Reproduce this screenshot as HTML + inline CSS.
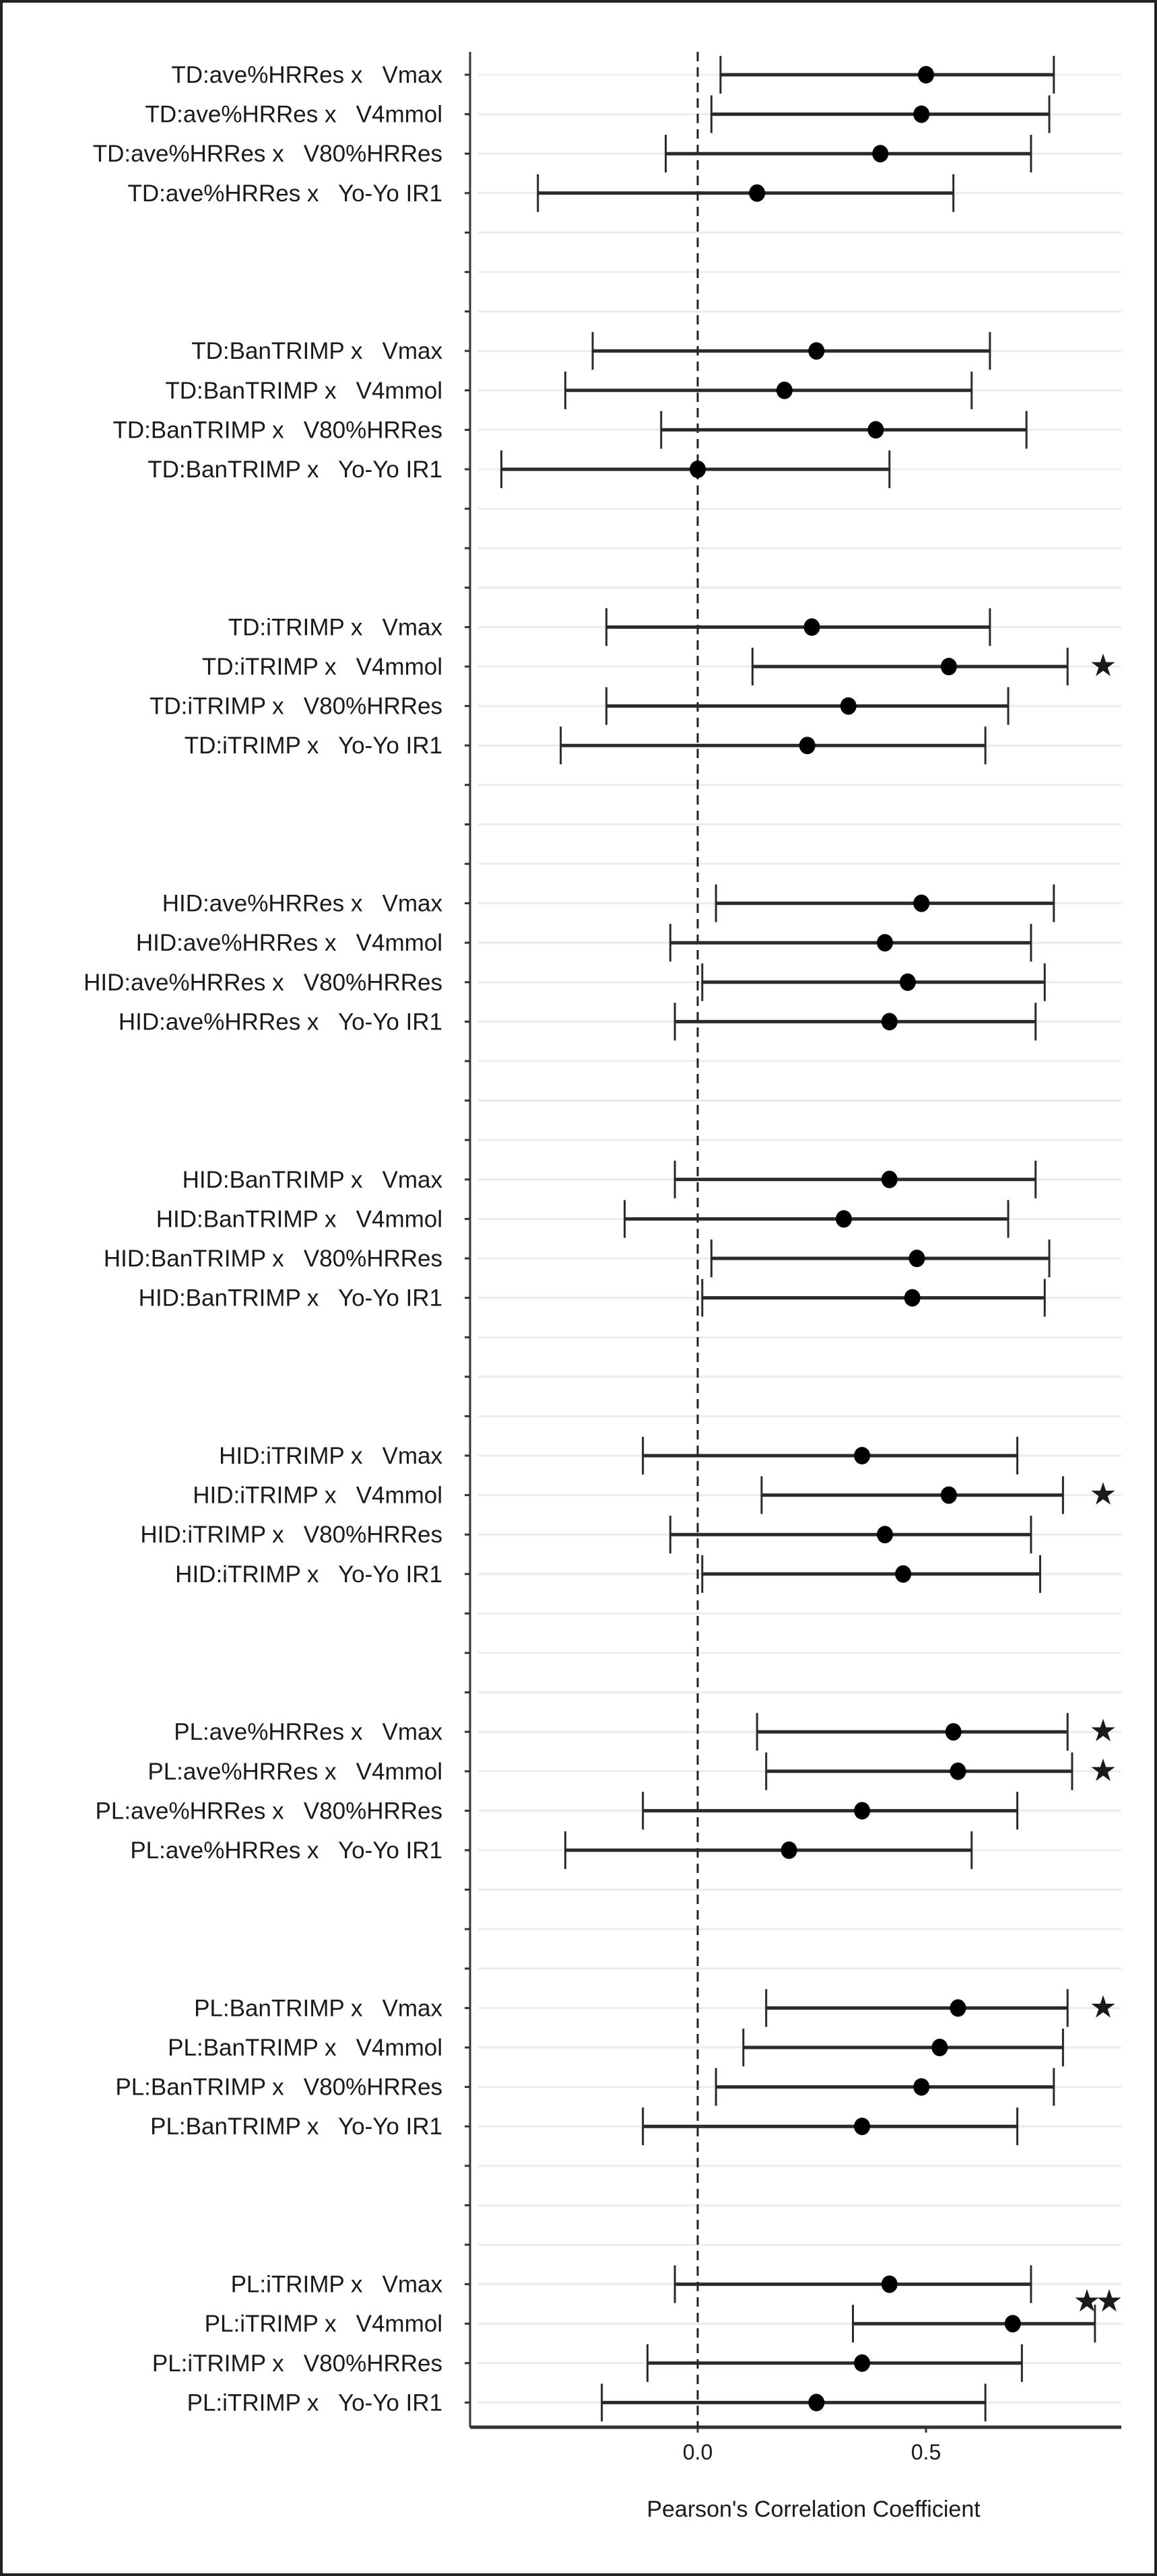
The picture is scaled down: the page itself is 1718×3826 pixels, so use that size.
<!DOCTYPE html>
<html><head><meta charset="utf-8">
<style>
html,body{margin:0;padding:0;background:#fff;}
svg{display:block;}
text{font-family:"Liberation Sans",Arial,sans-serif;fill:#1a1a1a;white-space:pre;}
</style></head>
<body>
<svg id="chart" width="1718" height="3826" viewBox="0 0 1718 3826" xmlns="http://www.w3.org/2000/svg">
<rect x="2" y="2" width="1714" height="3822" fill="#fff" stroke="#222" stroke-width="4"/>
<g id="grid"></g>
<g id="marks"></g>
<g id="labels"></g>
</svg>
<script>
const groups = ["TD:ave%HRRes","TD:BanTRIMP","TD:iTRIMP","HID:ave%HRRes","HID:BanTRIMP","HID:iTRIMP","PL:ave%HRRes","PL:BanTRIMP","PL:iTRIMP"];
const measures = ["Vmax","V4mmol","V80%HRRes","Yo-Yo IR1"];
const estimates = [
 0.50,0.49,0.40,0.13,
 0.26,0.19,0.39,0.00,
 0.25,0.55,0.33,0.24,
 0.49,0.41,0.46,0.42,
 0.42,0.32,0.48,0.47,
 0.36,0.55,0.41,0.45,
 0.56,0.57,0.36,0.20,
 0.57,0.53,0.49,0.36,
 0.42,0.69,0.36,0.26];
const lower = [
 0.05,0.03,-0.07,-0.35,
 -0.23,-0.29,-0.08,-0.43,
 -0.20,0.12,-0.20,-0.30,
 0.04,-0.06,0.01,-0.05,
 -0.05,-0.16,0.03,0.01,
 -0.12,0.14,-0.06,0.01,
 0.13,0.15,-0.12,-0.29,
 0.15,0.10,0.04,-0.12,
 -0.05,0.34,-0.11,-0.21];
const upper = [
 0.78,0.77,0.73,0.56,
 0.64,0.60,0.72,0.42,
 0.64,0.81,0.68,0.63,
 0.78,0.73,0.76,0.74,
 0.74,0.68,0.77,0.76,
 0.70,0.80,0.73,0.75,
 0.81,0.82,0.70,0.60,
 0.81,0.80,0.78,0.70,
 0.73,0.87,0.71,0.63];
const stars = [
 0,0,0,0, 0,0,0,0, 0,1,0,0, 0,0,0,0, 0,0,0,0, 0,1,0,0, 1,1,0,0, 1,0,0,0, 0,2,0,0];
const xTicks = [0.0, 0.5];
const xTickLabels = ["0.0","0.5"];

const NS = "http://www.w3.org/2000/svg";
const X0 = 1036, UNIT = 678, LEFT = 698, RIGHT = 1665, TOP = 77, BOTTOM = 3605;
const ROW0 = 111, ROWH = 58.6;
function xs(v){ return X0 + v*UNIT; }
function ys(i){ return ROW0 + i*ROWH; }
function mk(tag, attrs, parent){
  const e = document.createElementNS(NS, tag);
  for (const k in attrs) e.setAttribute(k, attrs[k]);
  parent.appendChild(e);
  return e;
}
const grid = document.getElementById('grid');
const marks = document.getElementById('marks');
const labels = document.getElementById('labels');
const nRows = groups.length*7 - 3;
for (let r = 0; r < nRows; r++) {
  const y = ys(r);
  const gl = mk('line', {x1: LEFT+12, x2: RIGHT, y1: y, y2: y, stroke: '#ececec', 'stroke-width': 3}, grid);
  
  
  const tk = mk('line', {x1: LEFT-8, x2: LEFT, y1: y, y2: y, stroke: '#333', 'stroke-width': 3}, grid);
  
  
}
const ya = mk('line', {x1: LEFT, x2: LEFT, y1: TOP, y2: BOTTOM, stroke: '#333', 'stroke-width': 3}, grid);


const xa = mk('line', {x1: LEFT, x2: RIGHT, y1: BOTTOM, y2: BOTTOM, stroke: '#333', 'stroke-width': 5}, grid);


const zl = mk('line', {x1: xs(0), x2: xs(0), y1: TOP, y2: BOTTOM, stroke: '#222', 'stroke-width': 3, 'stroke-dasharray': '14 9'}, grid);


xTicks.forEach((v, i) => {
  const t = mk('line', {x1: xs(v), x2: xs(v), y1: BOTTOM, y2: BOTTOM+8, stroke: '#333', 'stroke-width': 3}, grid);
  
  
  const tl = mk('text', {x: xs(v), y: BOTTOM+48, 'text-anchor': 'middle', 'font-size': 32, fill: '#333'}, labels);
  tl.textContent = xTickLabels[i];
  
  
});
const title = mk('text', {x: 1208, y: 3738, 'text-anchor': 'middle', 'font-size': 34}, labels);
title.textContent = "Pearson's Correlation Coefficient";



groups.forEach((g, gi) => {
  measures.forEach((m, mi) => {
    const k = gi*4 + mi;
    const y = ys(gi*7 + mi);
    const lab = mk('text', {x: 657, y: y+12, 'text-anchor': 'end', 'font-size': 35}, labels);
    lab.textContent = g + " x   " + m;
    
    
    const bar = mk('line', {x1: xs(lower[k]), x2: xs(upper[k]), y1: y, y2: y, stroke: '#2a2a2a', 'stroke-width': 5}, marks);
    
    
    [lower[k], upper[k]].forEach(v => {
      const c = mk('line', {x1: xs(v), x2: xs(v), y1: y-28, y2: y+28, stroke: '#2a2a2a', 'stroke-width': 3}, marks);
      
      
    });
    const dot = mk('ellipse', {cx: xs(estimates[k]), cy: y, rx: 12, ry: 13, fill: '#000'}, marks);
    
    
    if (stars[k] > 0) {
      const xs0 = stars[k] === 1 ? 1638 : 1614;
      for (let s = 0; s < stars[k]; s++) {
        const st = mk('text', {x: xs0 + s*33, y: y - (stars[k]===2 ? 32 : 0) + 14, 'text-anchor': 'middle', 'font-size': 46, fill: '#000', 'font-family': 'DejaVu Sans, sans-serif'}, labels);
        st.textContent = "★";
        
        
      }
    }
  });
});
</script>
</body></html>
